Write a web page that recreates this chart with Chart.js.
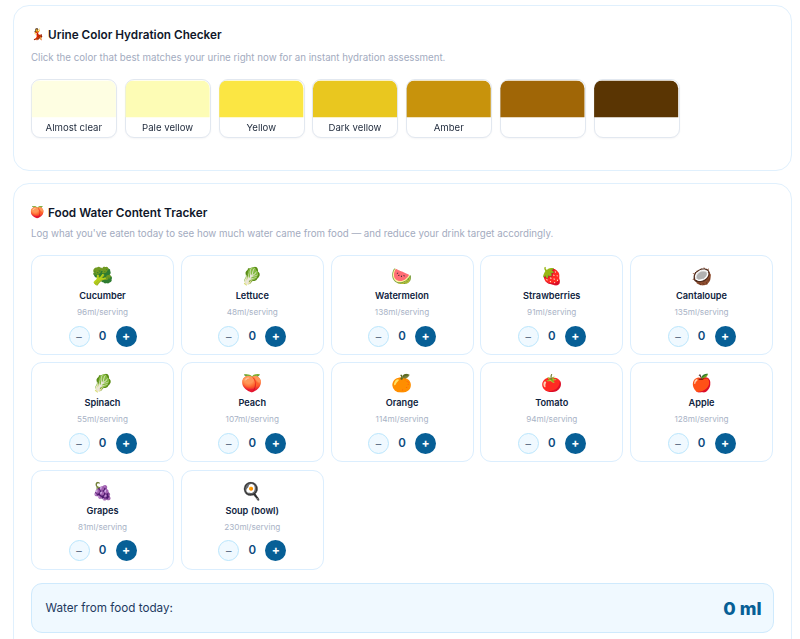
<!DOCTYPE html>
<html><head><meta charset="utf-8">
<script src="https://cdn.jsdelivr.net/npm/chart.js@4"></script>
<style>
html,body{margin:0;padding:0;background:#fff;width:800px;height:639px;overflow:hidden;font-family:Inter,"Noto Sans",sans-serif;color:#0f172a}
.abs{position:absolute;box-sizing:border-box}
.panel{border:1.5px solid #e0f0fd;border-radius:16px;background:#fff}
.title{font-weight:600;font-size:11.75px;white-space:nowrap}
.sub{font-size:9.71px;color:#a3abc0;white-space:nowrap}
.swatch{border:1.5px solid #e2e8f0;border-radius:9px;background:#fff;box-shadow:0 1px 2px rgba(15,23,42,.04)}
.tile{border:1px solid #dbeefe;border-radius:11px;background:#fff;text-align:center}
.name{position:absolute;left:0;right:0;top:34px;font-size:9.2px;font-weight:600;color:#0f2340}
.srv{position:absolute;left:0;right:0;top:51px;font-size:8.2px;color:#a9b3c6}
.emoji{position:absolute;left:0;right:0;top:7px;font-size:17px;line-height:26px;font-family:"Noto Color Emoji",sans-serif}
.btn{position:absolute;top:69.5px;width:21px;height:21px;border-radius:50%;font-size:12px;line-height:20px;text-align:center;box-sizing:border-box}
.minus{left:36.5px;background:#f0f9ff;border:1.2px solid #bae6fd;color:#64748b}
.plus{left:83.5px;background:#075f96;color:#fff;font-weight:700}
.cnt{position:absolute;left:0;right:0;top:72.5px;font-size:11.5px;line-height:15px;font-weight:600;color:#0c4a7e}
#wrap{position:absolute;left:27.45px;top:76px;width:656px;height:66px}
</style></head><body>
<div class="abs panel" style="left:13px;top:5px;width:779px;height:166px"></div>
<div class="abs panel" style="left:13px;top:183px;width:779px;height:480px"></div>
<div class="abs" style="left:31px;top:27px;font-size:11px;line-height:16px;font-family:'Noto Color Emoji'">💃</div>
<div class="abs title" style="left:48px;top:27.5px;line-height:15px">Urine Color Hydration Checker</div>
<div class="abs sub" style="left:31px;top:51px;line-height:13px">Click the color that best matches your urine right now for an instant hydration assessment.</div>
<div class="abs" style="left:30.5px;top:204px;font-size:11.5px;line-height:16px;font-family:'Noto Color Emoji'">🍑</div>
<div class="abs title" style="left:48px;top:205.5px;line-height:15px">Food Water Content Tracker</div>
<div class="abs sub" style="left:31px;top:227px;line-height:13px">Log what you've eaten today to see how much water came from food — and reduce your drink target accordingly.</div>
<div id="swatches"></div>
<div id="wrap" class="abs"><canvas id="c"></canvas></div>
<div id="tiles"></div>
<div class="abs" style="left:31px;top:583px;width:743px;height:50px;background:#f0f9ff;border:1px solid #cfeafd;border-radius:11px"></div>
<div class="abs" style="left:45.5px;top:601px;font-size:11.7px;line-height:15px;color:#1e3a5f;font-weight:400">Water from food today:</div>
<div class="abs" style="right:38.5px;top:598.5px;font-size:18px;line-height:20px;font-weight:800;color:#075f96">0 ml</div>
<script>
const colorLabels=["Almost clear","Pale yellow","Yellow","Dark yellow","Amber","",""];
const colorValues=[1,1,1,1,1,1,1];
const colorFills=["#fefee2","#fdfcb5","#fbe643","#e9c71f","#c8930c","#a06606","#5a3503"];
const foodNames=["Cucumber","Lettuce","Watermelon","Strawberries","Cantaloupe","Spinach","Peach","Orange","Tomato","Apple","Grapes","Soup (bowl)"];
const foodIcons=["🥦","🥬","🍉","🍓","🥥","🥬","🍑","🍊","🍅","🍎","🍇","🍳"];
const foodServings=[96,48,138,91,135,55,107,114,94,128,81,230];
const foodCounts=[0,0,0,0,0,0,0,0,0,0,0,0];

let h="";
colorLabels.forEach((_,i)=>{const x=31.3+i*93.7;h+=`<div class="abs swatch" style="left:${x}px;top:79px;width:86px;height:59px"></div>`});
document.getElementById("swatches").innerHTML=h;

let t="";
foodNames.forEach((n,i)=>{
  const x=31+(i%5)*149.75,y=255+Math.floor(i/5)*107.4;
  t+=`<div class="abs tile" style="left:${x}px;top:${y}px;width:143px;height:100px">
  <div class="emoji">${foodIcons[i]}</div><div class="name">${n}</div><div class="srv">${foodServings[i]}ml/serving</div>
  <div class="btn minus">−</div><div class="cnt">${foodCounts[i]}</div><div class="btn plus">+</div></div>`;
});
document.getElementById("tiles").innerHTML=t;

new Chart(document.getElementById("c"),{
  type:"bar",
  data:{labels:colorLabels,datasets:[{data:colorValues,backgroundColor:colorFills,borderWidth:0,
    borderRadius:{topLeft:8,topRight:8,bottomLeft:0,bottomRight:0},borderSkipped:false,
    categoryPercentage:1,barPercentage:0.897}]},
  options:{responsive:true,maintainAspectRatio:false,animation:false,
    layout:{padding:{top:4.5,left:0,right:0,bottom:11}},
    plugins:{legend:{display:false},tooltip:{enabled:false}},
    scales:{
      x:{grid:{display:false},border:{display:false},
         ticks:{maxRotation:0,autoSkip:false,padding:-3,color:"#1e293b",font:{family:"Inter",size:9.6}}},
      y:{display:false,min:0,max:1}}
  }
});
</script></body></html>
